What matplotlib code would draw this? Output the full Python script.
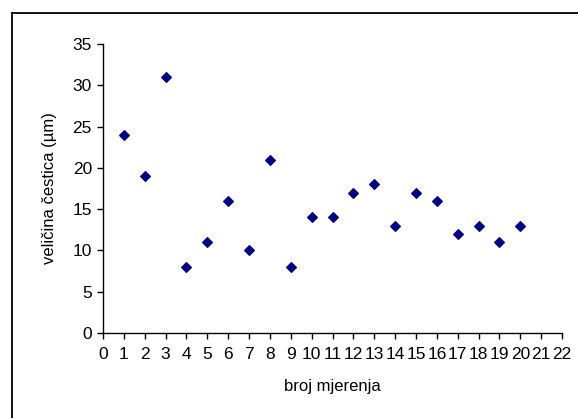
import matplotlib
matplotlib.use("Agg")
import matplotlib.pyplot as plt
from matplotlib.lines import Line2D

plt.rcParams['font.family'] = ['Liberation Sans', 'DejaVu Sans']

# data
mjerenje = [1, 2, 3, 4, 5, 6, 7, 8, 9, 10, 11, 12, 13, 14, 15, 16, 17, 18, 19, 20]
velicina = [24, 19, 31, 8, 11, 16, 10, 21, 8, 14, 14, 17, 18, 13, 17, 16, 12, 13, 11, 13]
x_ticks = list(range(0, 23))
y_ticks = [0, 5, 10, 15, 20, 25, 30, 35]

W, H = 578, 418
fig = plt.figure(figsize=(W / 100, H / 100), dpi=100)
ax = fig.add_axes([103 / W, 1 - 333 / H, (562 - 103) / W, (333 - 44) / H])

ax.scatter(mjerenje, velicina, marker='D', s=24, color='#000080', zorder=3)

ax.set_xlim(0, 22)
ax.set_ylim(0, 35)
ax.set_xticks(x_ticks)
ax.set_yticks(y_ticks)
ax.tick_params(labelsize=12.5, length=4, width=1)
ax.tick_params(axis='x', pad=6)
ax.tick_params(axis='y', pad=4)
ax.spines['top'].set_visible(False)
ax.spines['right'].set_visible(False)
for s in ['left', 'bottom']:
    ax.spines[s].set_linewidth(1)
    ax.spines[s].set_color('black')

ax.set_xlabel('broj mjerenja', fontsize=12, labelpad=12)
ax.set_ylabel('veličina čestica (µm)', fontsize=12, labelpad=11)

# chart area border (only left and top edges fall inside the image)
fig.lines.append(Line2D([12 / W, 12 / W], [0, 1 - 13 / H], transform=fig.transFigure,
                        color='black', linewidth=1.3))
fig.lines.append(Line2D([12 / W, 1], [1 - 13 / H, 1 - 13 / H], transform=fig.transFigure,
                        color='black', linewidth=1.3))

fig.savefig('out.png', dpi=100)
